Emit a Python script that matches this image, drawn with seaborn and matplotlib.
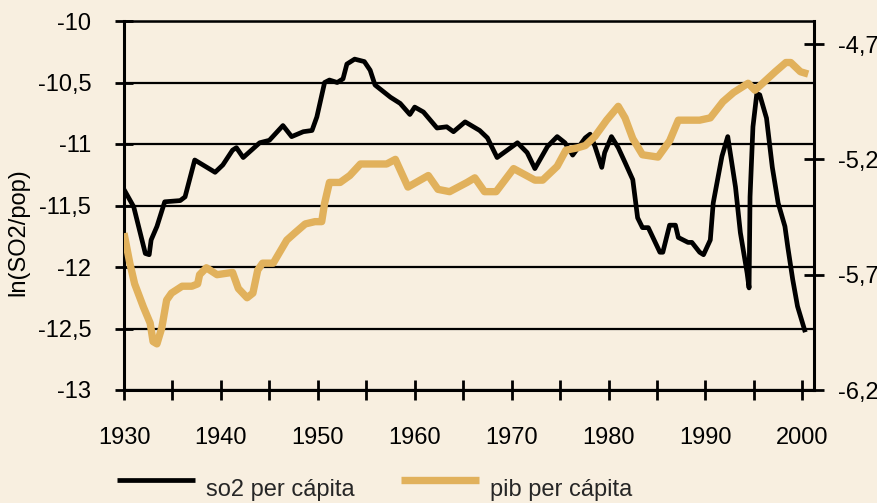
import matplotlib
matplotlib.use("Agg")
import matplotlib.pyplot as plt
import seaborn as sns
import pandas as pd
from matplotlib.ticker import FuncFormatter, FixedLocator

# ---- data ----
so2_years = [1930.0, 1931.0, 1932.2, 1932.6, 1932.8, 1933.4, 1934.2, 1935.8, 1936.3, 1937.3,
             1939.4, 1940.2, 1941.2, 1941.6, 1942.3, 1944.0, 1945.0, 1946.4, 1947.3, 1948.5,
             1949.4, 1949.9, 1950.7, 1951.2, 1952.0, 1952.6, 1953.0, 1953.8, 1954.8, 1955.4,
             1955.9, 1957.5, 1958.5, 1959.5, 1960.0, 1960.9, 1962.3, 1963.3, 1964.0, 1965.2,
             1966.7, 1967.5, 1968.5, 1970.6, 1971.6, 1972.4, 1973.7, 1974.7, 1975.5, 1976.3,
             1977.6, 1978.1, 1978.6, 1979.3, 1979.6, 1980.3, 1981.0, 1981.7, 1982.5, 1983.0,
             1983.5, 1984.1, 1985.3, 1985.6, 1986.3, 1986.9, 1987.2, 1988.2, 1988.6, 1989.4,
             1989.8, 1990.5, 1990.8, 1991.7, 1992.3, 1993.1, 1993.6, 1994.3, 1994.5, 1994.6,
             1994.9, 1995.3, 1995.6, 1996.3, 1996.9, 1997.5, 1998.2, 1998.5, 1999.0, 1999.5,
             2000.3]
so2_values = [-11.37, -11.51, -11.89, -11.90, -11.78, -11.67, -11.47, -11.46, -11.43, -11.13,
              -11.23, -11.17, -11.05, -11.03, -11.11, -10.99, -10.97, -10.85, -10.94, -10.90,
              -10.89, -10.78, -10.50, -10.48, -10.50, -10.47, -10.35, -10.31, -10.33, -10.40,
              -10.52, -10.62, -10.67, -10.76, -10.70, -10.74, -10.87, -10.86, -10.90, -10.82,
              -10.89, -10.95, -11.11, -10.99, -11.07, -11.20, -11.02, -10.94, -10.99, -11.09,
              -10.95, -10.92, -11.02, -11.19, -11.07, -10.94, -11.03, -11.15, -11.29, -11.60,
              -11.68, -11.68, -11.88, -11.88, -11.66, -11.66, -11.76, -11.80, -11.80, -11.88,
              -11.90, -11.78, -11.48, -11.10, -10.94, -11.35, -11.72, -12.05, -12.17, -11.43,
              -10.86, -10.59, -10.60, -10.79, -11.19, -11.48, -11.67, -11.84, -12.10, -12.32,
              -12.53]

pib_years = [1930.0, 1930.6, 1931.1, 1932.0, 1932.7, 1933.0, 1933.4, 1933.9, 1934.4, 1934.9,
             1936.0, 1937.0, 1937.6, 1937.8, 1938.5, 1939.6, 1941.2, 1941.8, 1942.7, 1943.3,
             1943.8, 1944.3, 1945.4, 1946.8, 1947.6, 1948.7, 1949.7, 1950.4, 1950.7, 1951.2,
             1952.3, 1953.3, 1954.4, 1957.1, 1958.0, 1959.3, 1961.4, 1962.4, 1963.6, 1965.4,
             1966.2, 1967.2, 1968.4, 1970.2, 1972.4, 1973.2, 1974.7, 1975.6, 1976.8, 1977.6,
             1978.6, 1979.8, 1981.0, 1981.7, 1982.5, 1983.5, 1985.1, 1986.3, 1987.2, 1989.4,
             1990.5, 1991.8, 1992.9, 1994.4, 1995.1, 1995.9, 1997.2, 1998.3, 1998.8, 1999.8,
             2000.6]
pib_values = [-5.52, -5.65, -5.74, -5.84, -5.91, -5.99, -6.00, -5.93, -5.81, -5.78,
              -5.75, -5.75, -5.74, -5.70, -5.67, -5.70, -5.69, -5.76, -5.80, -5.78,
              -5.68, -5.65, -5.65, -5.55, -5.52, -5.48, -5.47, -5.47, -5.39, -5.30,
              -5.30, -5.27, -5.22, -5.22, -5.20, -5.32, -5.27, -5.33, -5.34, -5.30,
              -5.28, -5.34, -5.34, -5.24, -5.29, -5.29, -5.23, -5.16, -5.15, -5.14,
              -5.10, -5.03, -4.97, -5.02, -5.11, -5.18, -5.19, -5.12, -5.03, -5.03,
              -5.02, -4.95, -4.91, -4.87, -4.90, -4.87, -4.82, -4.78, -4.78, -4.82,
              -4.83]

left_ticks = [-13, -12.5, -12, -11.5, -11, -10.5, -10]
right_ticks = [-6.2, -5.7, -5.2, -4.7]
year_labels = [1930, 1940, 1950, 1960, 1970, 1980, 1990, 2000]
year_minor = [1935, 1945, 1955, 1965, 1975, 1985, 1995]
series_names = ["so2 per cápita", "pib per cápita"]
y_title = "ln(SO2/pop)"

BG = "#F8EFE0"
GOLD = "#E1B15C"

sns.set_theme(style="white")
plt.rcParams["font.family"] = ["Liberation Sans", "DejaVu Sans"]

fig = plt.figure(figsize=(8.77, 5.03), dpi=100, facecolor=BG)
ax = fig.add_axes([124 / 877, 113 / 503, 690 / 877, 369 / 503])
ax.set_facecolor(BG)
ax2 = ax.twinx()

df_so2 = pd.DataFrame({"year": so2_years, "value": so2_values})
df_pib = pd.DataFrame({"year": pib_years, "value": pib_values})

sns.lineplot(data=df_so2, x="year", y="value", ax=ax, color="black", lw=3.4,
             sort=False, legend=False, solid_joinstyle="round", solid_capstyle="butt")
sns.lineplot(data=df_pib, x="year", y="value", ax=ax2, color=GOLD, lw=5.3,
             sort=False, legend=False, solid_joinstyle="round", solid_capstyle="butt")

fmt = FuncFormatter(lambda v, p: ("%g" % v).replace(".", ","))

ax.set_xlim(1930, 2001.2)
ax.set_ylim(-13, -10)
ax2.set_ylim(-6.2, -4.6)

ax.xaxis.set_major_locator(FixedLocator(year_labels))
ax.xaxis.set_minor_locator(FixedLocator(year_minor))
ax.yaxis.set_major_locator(FixedLocator(left_ticks))
ax.yaxis.set_major_formatter(fmt)
ax2.yaxis.set_major_locator(FixedLocator(right_ticks))
ax2.yaxis.set_major_formatter(fmt)

ax.grid(False)
ax2.grid(False)
ax.yaxis.grid(True, color="black", lw=1.6)

ax.tick_params(axis="x", which="both", direction="inout", length=14, width=2,
               colors="black", labelsize=17, pad=19.5, bottom=True, top=False)
ax.tick_params(axis="y", which="both", direction="inout", length=13, width=2,
               colors="black", labelsize=17, pad=17, left=True, right=False)
ax2.tick_params(axis="y", direction="inout", length=14, width=2,
                colors="black", labelsize=17, pad=10, right=True, left=False)

for name, sp in ax.spines.items():
    sp.set_color("black")
    sp.set_linewidth(2.2)
ax.spines["top"].set_linewidth(1.8)
ax.spines["right"].set_visible(False)
for name, sp in ax2.spines.items():
    sp.set_visible(name == "right")
ax2.spines["right"].set_color("black")
ax2.spines["right"].set_linewidth(2.2)

ax.set_xlabel("")
ax2.set_ylabel("")
ax.set_ylabel(y_title, fontsize=17, color="black")
ax.yaxis.set_label_coords(-0.1536, 0.428)
ax.yaxis.label.set_verticalalignment("center")

h1 = ax.get_lines()[0]
h2 = ax2.get_lines()[0]
fig.legend(handles=[h1, h2], labels=series_names, loc="lower left",
           bbox_to_anchor=(117 / 877, -0.023), ncol=2, frameon=False,
           fontsize=17, handlelength=3.3, handleheight=2.9, handletextpad=0.45,
           columnspacing=2.0, borderpad=0, borderaxespad=0)

fig.savefig("out.png", dpi=100, facecolor=BG)
